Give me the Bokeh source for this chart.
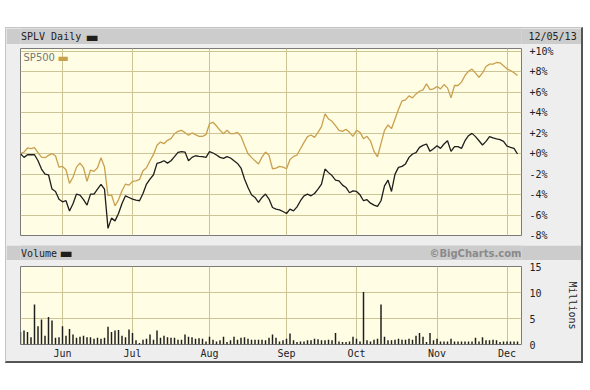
from bokeh.plotting import figure
from bokeh.layouts import column, row
from bokeh.models import FixedTicker, Range1d, Label, Spacer
from bokeh.embed import file_html
from bokeh.resources import INLINE

# ---------------- data ----------------
splv_pct = [
    0.0, -0.36, -0.1, -0.1, -0.1, -0.69, -1.5, -2.0, -2.06, -3.46,
    -3.69, -4.45, -4.7, -4.6, -5.6, -4.9, -3.95, -4.05, -4.5, -5.03,
    -3.95, -3.95, -3.46, -3.0, -3.46, -7.3, -6.3, -6.57, -5.85, -4.87,
    -4.12, -4.28, -4.44, -4.54, -4.6, -3.89, -2.97, -2.48, -2.06, -0.95,
    -0.85, -0.69, -0.92, -0.69, -0.29, 0.13, 0.2, 0.16, -0.69, -0.36,
    -0.2, -0.26, -0.29, -0.36, 0.2, 0.07, -0.13, -0.36, -0.46, -0.29,
    -0.42, -0.69, -0.95, -1.4, -2.48, -3.3, -4.02, -4.28, -4.77, -4.28,
    -3.95, -4.44, -5.26, -5.42, -5.49, -5.65, -5.85, -5.42, -5.59, -5.2,
    -4.6, -4.12, -3.95, -4.12, -3.89, -3.46, -2.97, -1.5, -1.85, -2.14,
    -2.58, -2.65, -3.07, -3.3, -3.82, -3.63, -3.69, -4.02, -4.6, -4.5,
    -4.84, -5.03, -5.16, -4.6, -3.14, -2.58, -3.69, -2.0, -1.34, -1.24,
    -1.0, -0.36, -0.03, 0.1, 0.62, 0.82, 0.95, 0.23, 0.49, 0.78,
    0.52, 0.95, 1.27, 0.23, 0.69, 0.69, 0.52, 1.27, 1.76, 1.99,
    1.67, 1.27, 0.85, 1.21, 1.67, 1.54, 1.44, 1.37, 1.21, 0.75,
    0.62, 0.52, -0.03,
]

sp500_pct = [
    0.0, 0.16, 0.56, 0.49, 0.59, 0.1, -0.33, -0.39, -0.16, 0.0,
    -0.2, -1.31, -1.24, -1.57, -2.9, -2.3, -1.31, -0.92, -1.37, -2.7,
    -1.6, -1.73, -1.37, -0.4, -1.31, -4.1, -4.02, -5.1, -4.51, -3.63,
    -2.97, -3.07, -2.71, -2.65, -2.52, -1.67, -1.37, -0.69, -0.07, 0.82,
    1.14, 0.98, 1.31, 1.47, 1.96, 2.19, 2.29, 2.06, 1.8, 2.03,
    1.86, 1.7, 1.7, 1.86, 2.94, 3.07, 2.71, 2.29, 1.96, 2.29,
    1.96, 1.96, 2.09, 1.7, 0.82, 0.0, -0.36, -0.7, -1.0, -0.33,
    0.16, -0.16, -1.47, -1.41, -1.24, -1.31, -1.47, -0.56, -0.26, -0.13,
    0.49, 1.11, 1.67, 1.83, 1.6, 2.09, 2.65, 3.9, 3.4, 3.17,
    2.75, 2.29, 2.19, 2.39, 2.09, 1.7, 2.29, 2.09, 1.47, 1.7,
    1.24, 0.23, -0.3, 1.01, 2.29, 2.81, 2.45, 3.4, 4.35, 5.16,
    5.26, 5.65, 5.46, 5.85, 6.11, 6.24, 6.83, 6.27, 6.34, 6.57,
    6.34, 6.76, 6.44, 5.46, 6.67, 6.67, 7.0, 7.65, 8.07, 8.27,
    7.88, 7.48, 7.9, 8.53, 8.76, 8.76, 8.92, 8.89, 8.6, 8.3,
    8.14, 7.91, 7.65,
]

volume_m = [
    2.4, 2.7, 2.4, 1.4, 7.7, 3.5, 4.8, 1.7, 5.3, 4.6,
    1.3, 1.4, 3.5, 1.7, 3.0, 1.9, 1.3, 1.5, 1.7, 1.4,
    1.4, 1.1, 1.3, 1.1, 1.3, 3.4, 2.4, 2.7, 2.8, 1.7,
    1.4, 2.9, 2.2, 0.8, 0.3, 0.9, 1.1, 1.9, 0.9, 2.7,
    1.3, 1.7, 1.4, 1.3, 1.3, 0.9, 0.9, 1.9, 1.5, 1.4,
    1.1, 1.2, 1.1, 0.6, 1.5, 0.9, 0.6, 0.8, 1.5, 0.5,
    0.8, 1.5, 0.9, 1.3, 1.4, 1.1, 0.9, 0.9, 0.9, 0.9,
    0.8, 1.3,
    1.9, 1.3, 0.6, 0.8, 1.1, 2.1, 0.8, 0.5, 0.6, 0.6,
    0.8, 0.8, 1.1, 1.0, 0.8, 0.8, 0.9, 0.8, 2.2, 0.6,
    0.5, 0.5, 0.6, 1.5, 1.1, 0.6, 10.1, 0.8, 0.6, 0.9,
    1.1, 7.7, 1.5, 0.8, 0.8, 0.9, 1.1, 0.9, 0.9, 1.1,
    0.9, 1.7, 2.2, 1.5, 0.5, 2.2, 0.8, 1.1, 0.6, 0.6,
    0.6, 1.1, 0.6, 0.6, 0.6, 0.6, 0.6, 0.6, 1.3, 0.6,
    1.4, 0.8, 0.8, 0.9, 0.8, 0.5, 0.6, 0.6, 0.6, 0.6,
    0.6,
]

month_ticks = [12, 32, 54, 76, 96, 119, 139]          # trading-day index of month starts
month_labels = ["Jun", "Jul", "Aug", "Sep", "Oct", "Nov", "Dec"]
price_ticks = [-8, -6, -4, -2, 0, 2, 4, 6, 8, 10]
price_tick_labels = ["-8%", "-6%", "-4%", "-2%", "+0%", "+2%", "+4%", "+6%", "+8%", "+10%"]
volume_ticks = [0, 5, 10, 15]
volume_tick_labels = ["0", "5", "10", "15"]
symbol_name = "SPLV Daily"
index_name = "SP500"
volume_name = "Volume"
chart_date = "12/05/13"
credit = "\u00a9BigCharts.com"

day = list(range(len(splv_pct)))

# ---------------- styles ----------------
FRAME_BG = "#eeeeee"
HEAD_BG = "#cccccc"
PLOT_BG = "#fffde3"
GRID = "#cdc596"
GOLD = "#c9a04f"
INK = "#1e1e1e"
MONO = "DejaVu Sans Mono"
W = 575
BL, BR = 14, 60
FRAME_PX = (20, 521)   # page-pixel span of the aligned plot frames (header coordinates)


def style_axis(a, standoff):
    a.axis_line_color = None
    a.major_tick_line_color = None
    a.minor_tick_line_color = None
    a.major_tick_in = 0
    a.major_tick_out = 0
    a.major_label_standoff = standoff
    a.major_label_text_font = MONO
    a.major_label_text_font_size = "10px"
    a.major_label_text_color = "#222222"


def header(h, right_text=None):
    f = figure(width=W, height=h, x_range=Range1d(*FRAME_PX), y_range=Range1d(0, h),
               x_axis_location=None,
               y_axis_location="right" if right_text else None,
               toolbar_location=None,
               output_backend="svg", min_border=0, min_border_left=BL, min_border_right=BR,
               min_border_top=0, min_border_bottom=0, background_fill_color=HEAD_BG,
               border_fill_color=HEAD_BG, outline_line_color=None)
    f.grid.visible = False
    if right_text:
        ya_ = f.yaxis[0]
        ya_.ticker = FixedTicker(ticks=[h / 2])
        ya_.major_label_overrides = {h / 2: right_text}
        style_axis(ya_, 7)
    return f


# top header (date shown through the header's right axis so it may sit outside the frame)
h1 = header(16, chart_date)
h1.add_layout(Label(x=20.5, y=8, text=symbol_name, text_font=MONO, text_font_size="10px",
                    text_color="#222222", text_baseline="middle"))
h1.add_layout(Label(x=85, y=8, text="\u25ac", text_font="DejaVu Sans", text_font_size="14px",
                    text_color=INK, text_baseline="middle"))

x_range = Range1d(0, 143.14)

# price panel
p1 = figure(width=W, height=201, x_range=x_range, y_range=Range1d(-8, 10.29),
            x_axis_location=None, y_axis_location="right", toolbar_location=None,
            output_backend="svg", min_border_left=BL, min_border_right=BR,
            min_border_top=4, min_border_bottom=10,
            background_fill_color=PLOT_BG, border_fill_color=FRAME_BG,
            outline_line_color="#7a7a7a")
p1.xgrid.ticker = FixedTicker(ticks=month_ticks)
p1.ygrid.ticker = FixedTicker(ticks=price_ticks)
for g in (p1.xgrid, p1.ygrid):
    g.grid_line_color = GRID
    g.grid_line_alpha = 1.0
ax = p1.yaxis[0]
ax.ticker = FixedTicker(ticks=price_ticks)
ax.major_label_overrides = dict(zip(price_ticks, price_tick_labels))
style_axis(ax, 8)

p1.line(day, sp500_pct, line_color=GOLD, line_width=1.3)
p1.line(day, splv_pct, line_color=INK, line_width=1.3)
p1.add_layout(Label(x=0.86, y=9.39, text=index_name, text_font="DejaVu Sans",
                    text_font_size="10px", text_color="#777777", text_baseline="middle"))
p1.add_layout(Label(x=10.6, y=9.39, text="\u25ac", text_font="DejaVu Sans",
                    text_font_size="12px", text_color=GOLD, text_baseline="middle"))

# volume header
h2 = header(15)
h2.add_layout(Label(x=20.5, y=7.5, text=volume_name, text_font=MONO, text_font_size="10px",
                    text_color="#222222", text_baseline="middle"))
h2.add_layout(Label(x=59, y=7.5, text="\u25ac", text_font="DejaVu Sans", text_font_size="14px",
                    text_color=INK, text_baseline="middle"))
h2.add_layout(Label(x=521, y=7.5, text=credit, text_font="DejaVu Sans", text_font_size="10px",
                    text_font_style="bold", text_color="#8a8a8a", text_baseline="middle",
                    text_align="right"))

# volume panel
p2 = figure(width=W, height=101, x_range=x_range, y_range=Range1d(0, 15),
            x_axis_location="below", y_axis_location="right", toolbar_location=None,
            output_backend="svg", min_border_left=BL, min_border_right=BR,
            min_border_top=6, min_border_bottom=17,
            background_fill_color=PLOT_BG, border_fill_color=FRAME_BG,
            outline_line_color="#7a7a7a")
p2.xgrid.ticker = FixedTicker(ticks=month_ticks)
p2.ygrid.ticker = FixedTicker(ticks=volume_ticks)
for g in (p2.xgrid, p2.ygrid):
    g.grid_line_color = GRID
    g.grid_line_alpha = 1.0

xa = p2.xaxis[0]
xa.ticker = FixedTicker(ticks=month_ticks)
xa.major_label_overrides = dict(zip(month_ticks, month_labels))
style_axis(xa, 3)
ya = p2.yaxis[0]
ya.ticker = FixedTicker(ticks=volume_ticks)
ya.major_label_overrides = dict(zip(volume_ticks, volume_tick_labels))
style_axis(ya, 8)
ya.axis_label = "Millions"
ya.axis_label_standoff = 22
ya.axis_label_text_font = MONO
ya.axis_label_text_font_size = "10px"
ya.axis_label_text_font_style = "normal"
ya.axis_label_text_color = "#222222"

p2.vbar(x=day, top=volume_m, width=0.42, fill_color=INK, line_color=None)

framed = column(h1, p1, h2, p2, spacing=0,
                styles={"border-left": "1px solid #c4c4c4", "border-top": "1px solid #c4c4c4",
                        "border-right": "2px solid #555555", "border-bottom": "2px solid #555555",
                        "background-color": FRAME_BG})
root = column(Spacer(height=27, width=10),
              row(Spacer(width=5, height=10), framed, spacing=0),
              spacing=0)

open("out.html", "w").write(file_html(root, INLINE))
